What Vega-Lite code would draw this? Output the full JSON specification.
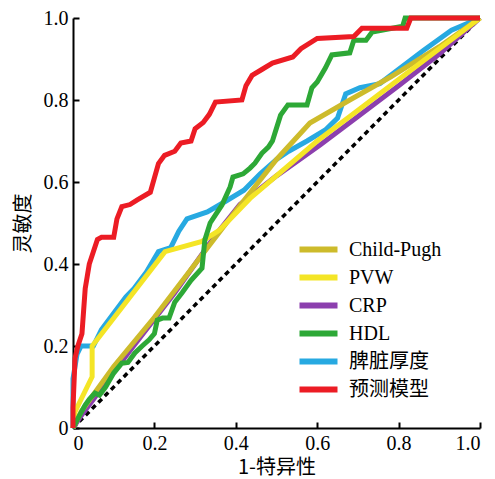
{
  "$schema": "https://vega.github.io/schema/vega-lite/v6.json",
  "width": 407,
  "height": 410,
  "autosize": {"type": "none"},
  "padding": {"left": 73, "top": 18, "right": 15, "bottom": 51},
  "background": "white",
  "config": {
    "view": {"stroke": null},
    "axis": {
      "grid": false,
      "domainColor": "black",
      "domainWidth": 2,
      "tickColor": "black",
      "tickWidth": 2,
      "tickSize": -6,
      "labelPadding": 11,
      "labelFont": "Liberation Serif, Times New Roman, serif",
      "labelFontSize": 20,
      "labelColor": "black",
      "titleFont": "Noto Sans CJK SC",
      "titleFontSize": 20,
      "titleFontWeight": "normal",
      "titleColor": "black"
    }
  },
  "layer": [
    {
      "data": {"values": [{"x": 0, "y": 0}, {"x": 1, "y": 1}]},
      "mark": {"type": "line", "color": "black", "strokeWidth": 3.5, "strokeDash": [5, 4]},
      "encoding": {
        "x": {"field": "x", "type": "quantitative"},
        "y": {"field": "y", "type": "quantitative"}
      }
    },
    {
      "data": {"values": [
        {"m": "CRP", "i": 0, "x": 0, "y": 0},
        {"m": "CRP", "i": 1, "x": 0.02, "y": 0.03},
        {"m": "CRP", "i": 2, "x": 0.08, "y": 0.11},
        {"m": "CRP", "i": 3, "x": 0.145, "y": 0.195},
        {"m": "CRP", "i": 4, "x": 0.25, "y": 0.33},
        {"m": "CRP", "i": 5, "x": 0.35, "y": 0.47},
        {"m": "CRP", "i": 6, "x": 0.41, "y": 0.545},
        {"m": "CRP", "i": 7, "x": 0.5, "y": 0.615},
        {"m": "CRP", "i": 8, "x": 0.607, "y": 0.69},
        {"m": "CRP", "i": 9, "x": 0.7, "y": 0.76},
        {"m": "CRP", "i": 10, "x": 0.8, "y": 0.835},
        {"m": "CRP", "i": 11, "x": 0.9, "y": 0.912},
        {"m": "CRP", "i": 12, "x": 1, "y": 1},

        {"m": "脾脏厚度", "i": 0, "x": 0, "y": 0},
        {"m": "脾脏厚度", "i": 1, "x": 0, "y": 0.12},
        {"m": "脾脏厚度", "i": 2, "x": 0.01, "y": 0.18},
        {"m": "脾脏厚度", "i": 3, "x": 0.02, "y": 0.2},
        {"m": "脾脏厚度", "i": 4, "x": 0.05, "y": 0.2},
        {"m": "脾脏厚度", "i": 5, "x": 0.07, "y": 0.24},
        {"m": "脾脏厚度", "i": 6, "x": 0.1, "y": 0.28},
        {"m": "脾脏厚度", "i": 7, "x": 0.13, "y": 0.32},
        {"m": "脾脏厚度", "i": 8, "x": 0.15, "y": 0.34},
        {"m": "脾脏厚度", "i": 9, "x": 0.18, "y": 0.38},
        {"m": "脾脏厚度", "i": 10, "x": 0.21, "y": 0.43},
        {"m": "脾脏厚度", "i": 11, "x": 0.24, "y": 0.44},
        {"m": "脾脏厚度", "i": 12, "x": 0.26, "y": 0.48},
        {"m": "脾脏厚度", "i": 13, "x": 0.28, "y": 0.51},
        {"m": "脾脏厚度", "i": 14, "x": 0.33, "y": 0.527},
        {"m": "脾脏厚度", "i": 15, "x": 0.37, "y": 0.55},
        {"m": "脾脏厚度", "i": 16, "x": 0.42, "y": 0.58},
        {"m": "脾脏厚度", "i": 17, "x": 0.46, "y": 0.62},
        {"m": "脾脏厚度", "i": 18, "x": 0.5, "y": 0.655},
        {"m": "脾脏厚度", "i": 19, "x": 0.53, "y": 0.675},
        {"m": "脾脏厚度", "i": 20, "x": 0.575, "y": 0.7},
        {"m": "脾脏厚度", "i": 21, "x": 0.62, "y": 0.727},
        {"m": "脾脏厚度", "i": 22, "x": 0.65, "y": 0.756},
        {"m": "脾脏厚度", "i": 23, "x": 0.67, "y": 0.815},
        {"m": "脾脏厚度", "i": 24, "x": 0.705, "y": 0.83},
        {"m": "脾脏厚度", "i": 25, "x": 0.754, "y": 0.84},
        {"m": "脾脏厚度", "i": 26, "x": 0.86, "y": 0.92},
        {"m": "脾脏厚度", "i": 27, "x": 0.93, "y": 0.97},
        {"m": "脾脏厚度", "i": 28, "x": 1, "y": 1},

        {"m": "Child-Pugh", "i": 0, "x": 0, "y": 0},
        {"m": "Child-Pugh", "i": 1, "x": 0.02, "y": 0.04},
        {"m": "Child-Pugh", "i": 2, "x": 0.1, "y": 0.15},
        {"m": "Child-Pugh", "i": 3, "x": 0.2, "y": 0.27},
        {"m": "Child-Pugh", "i": 4, "x": 0.3, "y": 0.4},
        {"m": "Child-Pugh", "i": 5, "x": 0.4, "y": 0.53},
        {"m": "Child-Pugh", "i": 6, "x": 0.5, "y": 0.655},
        {"m": "Child-Pugh", "i": 7, "x": 0.582, "y": 0.744},
        {"m": "Child-Pugh", "i": 8, "x": 0.68, "y": 0.8},
        {"m": "Child-Pugh", "i": 9, "x": 0.78, "y": 0.856},
        {"m": "Child-Pugh", "i": 10, "x": 0.9, "y": 0.93},
        {"m": "Child-Pugh", "i": 11, "x": 1, "y": 1},

        {"m": "PVW", "i": 0, "x": 0, "y": 0},
        {"m": "PVW", "i": 1, "x": 0.005, "y": 0.04},
        {"m": "PVW", "i": 2, "x": 0.047, "y": 0.125},
        {"m": "PVW", "i": 3, "x": 0.047, "y": 0.2},
        {"m": "PVW", "i": 4, "x": 0.226, "y": 0.43},
        {"m": "PVW", "i": 5, "x": 0.317, "y": 0.455},
        {"m": "PVW", "i": 6, "x": 0.36, "y": 0.483},
        {"m": "PVW", "i": 7, "x": 0.435, "y": 0.56},
        {"m": "PVW", "i": 8, "x": 0.6, "y": 0.7},
        {"m": "PVW", "i": 9, "x": 0.68, "y": 0.76},
        {"m": "PVW", "i": 10, "x": 0.8, "y": 0.85},
        {"m": "PVW", "i": 11, "x": 0.9, "y": 0.925},
        {"m": "PVW", "i": 12, "x": 1, "y": 1},

        {"m": "HDL", "i": 0, "x": 0, "y": 0},
        {"m": "HDL", "i": 1, "x": 0.01, "y": 0.02},
        {"m": "HDL", "i": 2, "x": 0.03, "y": 0.056},
        {"m": "HDL", "i": 3, "x": 0.04, "y": 0.07},
        {"m": "HDL", "i": 4, "x": 0.054, "y": 0.085},
        {"m": "HDL", "i": 5, "x": 0.065, "y": 0.08},
        {"m": "HDL", "i": 6, "x": 0.08, "y": 0.1},
        {"m": "HDL", "i": 7, "x": 0.1, "y": 0.134},
        {"m": "HDL", "i": 8, "x": 0.12, "y": 0.158},
        {"m": "HDL", "i": 9, "x": 0.135, "y": 0.16},
        {"m": "HDL", "i": 10, "x": 0.152, "y": 0.183},
        {"m": "HDL", "i": 11, "x": 0.17, "y": 0.2},
        {"m": "HDL", "i": 12, "x": 0.187, "y": 0.215},
        {"m": "HDL", "i": 13, "x": 0.2, "y": 0.23},
        {"m": "HDL", "i": 14, "x": 0.207, "y": 0.263},
        {"m": "HDL", "i": 15, "x": 0.22, "y": 0.268},
        {"m": "HDL", "i": 16, "x": 0.236, "y": 0.268},
        {"m": "HDL", "i": 17, "x": 0.25, "y": 0.307},
        {"m": "HDL", "i": 18, "x": 0.268, "y": 0.33},
        {"m": "HDL", "i": 19, "x": 0.29, "y": 0.36},
        {"m": "HDL", "i": 20, "x": 0.317, "y": 0.39},
        {"m": "HDL", "i": 21, "x": 0.324, "y": 0.459},
        {"m": "HDL", "i": 22, "x": 0.337, "y": 0.5},
        {"m": "HDL", "i": 23, "x": 0.366, "y": 0.544},
        {"m": "HDL", "i": 24, "x": 0.386, "y": 0.588},
        {"m": "HDL", "i": 25, "x": 0.393, "y": 0.612},
        {"m": "HDL", "i": 26, "x": 0.418, "y": 0.62},
        {"m": "HDL", "i": 27, "x": 0.435, "y": 0.634},
        {"m": "HDL", "i": 28, "x": 0.447, "y": 0.646},
        {"m": "HDL", "i": 29, "x": 0.464, "y": 0.67},
        {"m": "HDL", "i": 30, "x": 0.48, "y": 0.685},
        {"m": "HDL", "i": 31, "x": 0.49, "y": 0.7},
        {"m": "HDL", "i": 32, "x": 0.51, "y": 0.763},
        {"m": "HDL", "i": 33, "x": 0.528, "y": 0.788},
        {"m": "HDL", "i": 34, "x": 0.575, "y": 0.788},
        {"m": "HDL", "i": 35, "x": 0.587, "y": 0.83},
        {"m": "HDL", "i": 36, "x": 0.6, "y": 0.844},
        {"m": "HDL", "i": 37, "x": 0.62, "y": 0.878},
        {"m": "HDL", "i": 38, "x": 0.636, "y": 0.91},
        {"m": "HDL", "i": 39, "x": 0.68, "y": 0.915},
        {"m": "HDL", "i": 40, "x": 0.69, "y": 0.946},
        {"m": "HDL", "i": 41, "x": 0.72, "y": 0.946},
        {"m": "HDL", "i": 42, "x": 0.735, "y": 0.966},
        {"m": "HDL", "i": 43, "x": 0.81, "y": 0.98},
        {"m": "HDL", "i": 44, "x": 0.816, "y": 1.0},
        {"m": "HDL", "i": 45, "x": 1, "y": 1},

        {"m": "预测模型", "i": 0, "x": 0, "y": 0},
        {"m": "预测模型", "i": 1, "x": 0, "y": 0.05},
        {"m": "预测模型", "i": 2, "x": 0.005, "y": 0.17},
        {"m": "预测模型", "i": 3, "x": 0.012, "y": 0.2},
        {"m": "预测模型", "i": 4, "x": 0.022, "y": 0.23},
        {"m": "预测模型", "i": 5, "x": 0.03, "y": 0.34},
        {"m": "预测模型", "i": 6, "x": 0.035, "y": 0.37},
        {"m": "预测模型", "i": 7, "x": 0.04, "y": 0.4},
        {"m": "预测模型", "i": 8, "x": 0.05, "y": 0.43},
        {"m": "预测模型", "i": 9, "x": 0.06, "y": 0.46},
        {"m": "预测模型", "i": 10, "x": 0.07, "y": 0.465},
        {"m": "预测模型", "i": 11, "x": 0.1, "y": 0.465},
        {"m": "预测模型", "i": 12, "x": 0.108, "y": 0.51},
        {"m": "预测模型", "i": 13, "x": 0.12, "y": 0.54},
        {"m": "预测模型", "i": 14, "x": 0.14, "y": 0.545},
        {"m": "预测模型", "i": 15, "x": 0.157, "y": 0.556},
        {"m": "预测模型", "i": 16, "x": 0.19, "y": 0.575},
        {"m": "预测模型", "i": 17, "x": 0.2, "y": 0.61},
        {"m": "预测模型", "i": 18, "x": 0.21, "y": 0.645},
        {"m": "预测模型", "i": 19, "x": 0.225, "y": 0.665},
        {"m": "预测模型", "i": 20, "x": 0.25, "y": 0.675},
        {"m": "预测模型", "i": 21, "x": 0.265, "y": 0.695},
        {"m": "预测模型", "i": 22, "x": 0.29, "y": 0.7},
        {"m": "预测模型", "i": 23, "x": 0.3, "y": 0.73},
        {"m": "预测模型", "i": 24, "x": 0.32, "y": 0.745},
        {"m": "预测模型", "i": 25, "x": 0.335, "y": 0.765},
        {"m": "预测模型", "i": 26, "x": 0.35, "y": 0.795},
        {"m": "预测模型", "i": 27, "x": 0.415, "y": 0.8},
        {"m": "预测模型", "i": 28, "x": 0.425, "y": 0.835},
        {"m": "预测模型", "i": 29, "x": 0.44, "y": 0.86},
        {"m": "预测模型", "i": 30, "x": 0.465, "y": 0.875},
        {"m": "预测模型", "i": 31, "x": 0.49, "y": 0.89},
        {"m": "预测模型", "i": 32, "x": 0.54, "y": 0.905},
        {"m": "预测模型", "i": 33, "x": 0.56, "y": 0.925},
        {"m": "预测模型", "i": 34, "x": 0.6, "y": 0.95},
        {"m": "预测模型", "i": 35, "x": 0.69, "y": 0.955},
        {"m": "预测模型", "i": 36, "x": 0.71, "y": 0.975},
        {"m": "预测模型", "i": 37, "x": 0.82, "y": 0.975},
        {"m": "预测模型", "i": 38, "x": 0.83, "y": 1.0},
        {"m": "预测模型", "i": 39, "x": 1, "y": 1}
      ]},
      "mark": {"type": "line", "strokeWidth": 5, "strokeJoin": "miter"},
      "encoding": {
        "x": {
          "field": "x", "type": "quantitative",
          "scale": {"domain": [0, 1], "nice": false},
          "axis": {"values": [0, 0.2, 0.4, 0.6, 0.8, 1], "labelExpr": "datum.value == 0 ? '0' : format(datum.value, '.1f')", "title": "1-特异性", "titlePadding": 4}
        },
        "y": {
          "field": "y", "type": "quantitative",
          "scale": {"domain": [0, 1], "nice": false},
          "axis": {"values": [0, 0.2, 0.4, 0.6, 0.8, 1], "labelExpr": "datum.value == 0 ? '0' : format(datum.value, '.1f')", "title": "灵敏度", "titlePadding": 10}
        },
        "order": {"field": "i", "type": "quantitative"},
        "color": {
          "field": "m", "type": "nominal",
          "scale": {
            "domain": ["Child-Pugh", "PVW", "CRP", "HDL", "脾脏厚度", "预测模型"],
            "range": ["#CDBB2B", "#F4E526", "#8C3FAE", "#2DA836", "#27A9E1", "#EC1C24"]
          },
          "legend": {
            "title": null,
            "orient": "none",
            "legendX": 230,
            "legendY": 216,
            "symbolType": "M-1.52,0H1.52",
            "symbolSize": 625,
            "symbolStrokeWidth": 6,
            "symbolFillColor": "transparent",
            "labelFont": "Liberation Serif, Times New Roman, Noto Sans CJK SC, serif",
            "labelFontSize": 20,
            "labelColor": "black",
            "labelOffset": 15,
            "rowPadding": 0,
            "labelLimit": 200
          }
        }
      }
    }
  ]
}
